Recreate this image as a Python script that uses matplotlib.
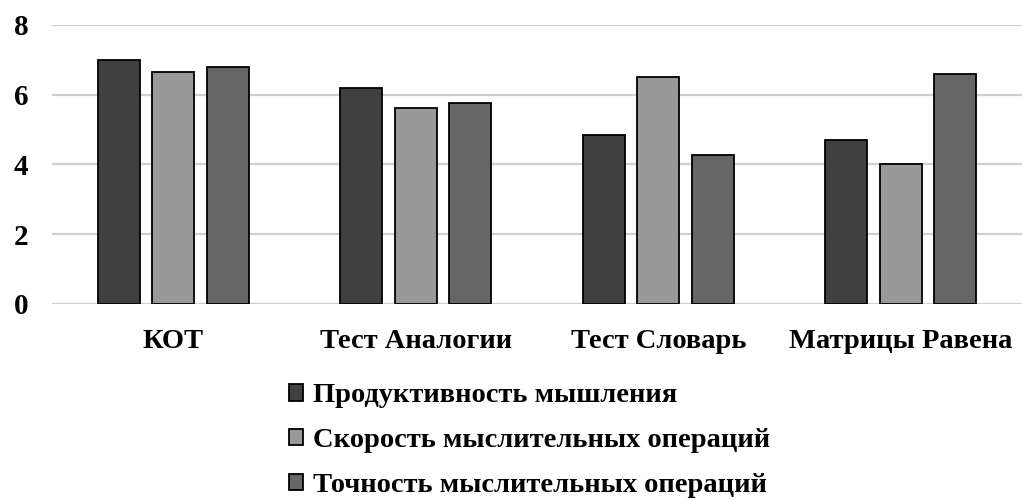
import matplotlib
matplotlib.use("Agg")
import matplotlib.pyplot as plt
import numpy as np

categories = ["КОТ", "Тест Аналогии", "Тест Словарь", "Матрицы Равена"]
series_names = ["Продуктивность мышления", "Скорость мыслительных операций", "Точность мыслительных операций"]
productivity = [7.0, 6.2, 4.85, 4.7]
speed = [6.65, 5.63, 6.5, 4.02]
accuracy = [6.8, 5.75, 4.28, 6.6]
yticks = [0, 2, 4, 6, 8]

colors = ["#404040", "#999999", "#666666"]

plt.rcParams['font.family'] = ['Liberation Serif', 'DejaVu Serif']
plt.rcParams['font.weight'] = 'bold'

fig = plt.figure(figsize=(10.22, 5.0), dpi=100)
ax = fig.add_axes([0.051, 0.392, 0.949, 0.558])

x = np.arange(len(categories))
width = 0.173
step = 0.225
for i, (vals, name) in enumerate(zip([productivity, speed, accuracy], series_names)):
    ax.bar(x + (i - 1) * step, vals, width, color=colors[i], edgecolor="black",
           linewidth=1.3, label=name, zorder=3)

ax.set_xlim(-0.5, len(categories) - 0.5)
ax.set_ylim(0, 8)
ax.set_yticks(yticks)
ax.set_yticklabels([str(t) for t in yticks], fontsize=21, fontweight='bold')
ax.set_xticks(x)
ax.set_xticklabels(categories, fontsize=20.5, fontweight='bold')
ax.tick_params(axis='both', length=0)
ax.tick_params(axis='x', pad=18)
ax.tick_params(axis='y', pad=17)
ax.grid(axis='y', color="#d0d0d0", linewidth=1.6, zorder=0)
for s in ax.spines.values():
    s.set_visible(False)

handles, labels = ax.get_legend_handles_labels()
leg = fig.legend(handles, labels, loc='upper left', bbox_to_anchor=(0.283, 0.233),
                 frameon=False, handlelength=0.5, handleheight=0.5,
                 handletextpad=0.35, labelspacing=0.69, borderaxespad=0, borderpad=0,
                 prop={'weight': 'bold', 'size': 20.5})

fig.savefig("out.png", dpi=100)
